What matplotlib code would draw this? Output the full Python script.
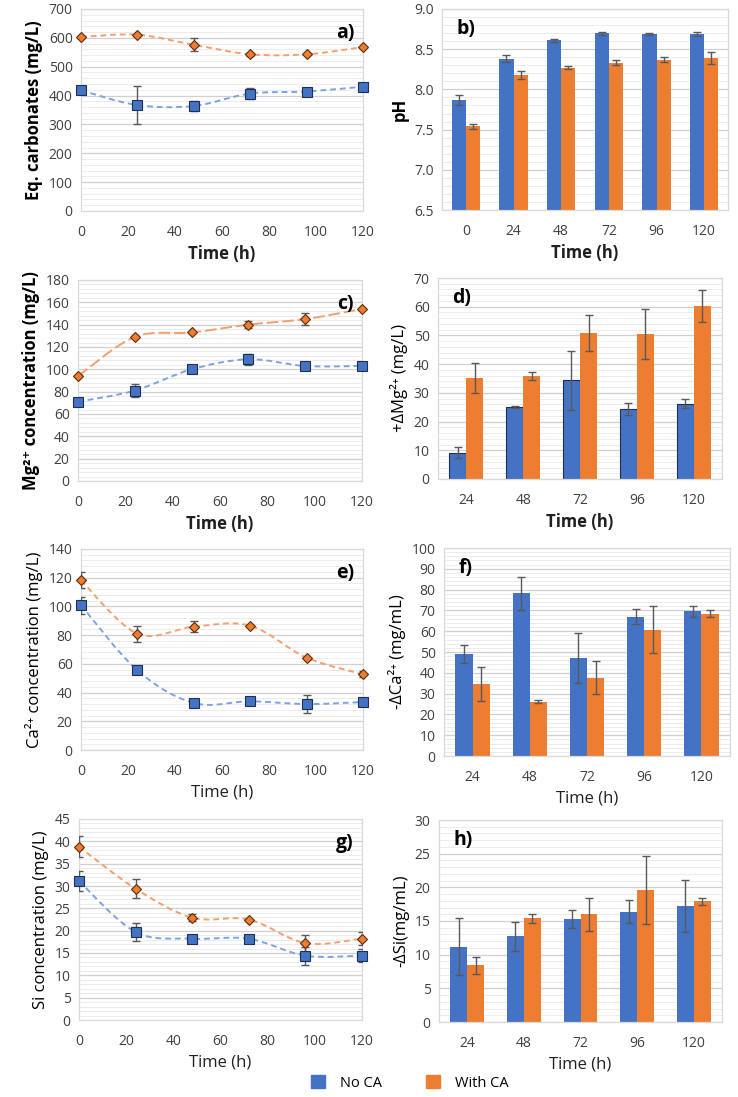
import matplotlib
matplotlib.use("Agg")
import matplotlib.pyplot as plt
import numpy as np
from matplotlib.path import Path
from matplotlib.patches import PathPatch, Patch
from matplotlib.ticker import MultipleLocator, AutoMinorLocator, FormatStrFormatter

plt.rcParams["font.family"] = ["Open Sans", "DejaVu Sans"]

BLUE = "#4472C4"
ORANGE = "#ED7D31"
ERR = "#595959"

# time points (h)
time = [0, 24, 48, 72, 96, 120]
time_delta = [24, 48, 72, 96, 120]

# a) equivalent carbonates (mg/L)
carb_no = [418, 367, 364, 407, 414, 431]
carb_no_err = [0, 65, 18, 18, 6, 5]
carb_ca = [603, 611, 576, 543, 543, 568]
carb_ca_err = [0, 0, 23, 5, 0, 0]

# b) pH
ph_no = [7.87, 8.38, 8.61, 8.70, 8.69, 8.69]
ph_no_err = [0.06, 0.045, 0.02, 0.02, 0.015, 0.02]
ph_ca = [7.54, 8.18, 8.27, 8.33, 8.37, 8.39]
ph_ca_err = [0.03, 0.045, 0.02, 0.03, 0.03, 0.07]

# c) Mg2+ concentration (mg/L)
mg_no = [71, 81, 100, 109, 103, 103]
mg_no_err = [0, 6, 0, 5, 0, 0]
mg_ca = [94, 129, 133, 140, 145, 154]
mg_ca_err = [0, 0, 0, 3, 5, 0]

# d) +dMg2+ (mg/L)
dmg_no = [9.2, 25.1, 34.4, 24.4, 26.2]
dmg_no_err = [2.0, 0.2, 10.2, 2.2, 1.6]
dmg_ca = [35.1, 35.8, 50.8, 50.5, 60.3]
dmg_ca_err = [5.3, 1.4, 6.3, 8.7, 5.5]

# e) Ca2+ concentration (mg/L)
ca_no = [100.8, 55.5, 32.7, 33.9, 32.0, 33.4]
ca_no_err = [6, 0, 3, 0, 6.3, 0]
ca_ca = [118.2, 81.0, 85.9, 86.6, 64.3, 52.7]
ca_ca_err = [5.5, 5.6, 3.7, 0, 0, 2]

# f) -dCa2+ (mg/mL)
dca_no = [48.9, 78.3, 47.0, 67.0, 69.6]
dca_no_err = [4.3, 7.9, 12.1, 3.5, 2.6]
dca_ca = [34.6, 26.2, 37.6, 60.8, 68.5]
dca_ca_err = [8.0, 0.8, 8.0, 11.3, 1.6]

# g) Si concentration (mg/L)
si_no = [31.1, 19.7, 18.2, 18.2, 14.4, 14.4]
si_no_err = [2.2, 2.0, 0, 0, 2.0, 1.5]
si_ca = [38.8, 29.4, 22.9, 22.5, 17.2, 18.2]
si_ca_err = [2.3, 2.1, 0.8, 0, 1.9, 1.5]

# h) -dSi (mg/mL)
dsi_no = [11.2, 12.7, 15.3, 16.4, 17.2]
dsi_no_err = [4.2, 2.2, 1.35, 1.75, 3.9]
dsi_ca = [8.4, 15.4, 16.0, 19.6, 17.9]
dsi_ca_err = [1.2, 0.7, 2.45, 5.0, 0.55]


W, H = 738, 1097
fig = plt.figure(figsize=(W / 100, H / 100), dpi=100)


def add_ax(left, top, right, bottom):
    return fig.add_axes([left / W, 1 - bottom / H, (right - left) / W, (bottom - top) / H])


def style(ax, ymin, ymax, major, label, letter, letter_right, ybold, xbold):
    ax.set_ylim(ymin, ymax)
    ax.yaxis.set_major_locator(MultipleLocator(major))
    ax.yaxis.set_minor_locator(AutoMinorLocator(5))
    ax.grid(axis="y", which="major", color="#d0d0d0", lw=0.9)
    ax.grid(axis="y", which="minor", color="#ececec", lw=0.7)
    ax.set_axisbelow(True)
    for s in ax.spines.values():
        s.set_color("#d9d9d9")
        s.set_linewidth(0.9)
    ax.tick_params(length=0, labelsize=10, colors="#404040", pad=6)
    ax.tick_params(axis="x", pad=10)
    ax.tick_params(which="minor", length=0)
    ax.set_ylabel(label, fontsize=12, fontweight="bold" if ybold else "normal",
                  color="black", labelpad=4)
    ax.set_xlabel("Time (h)", fontsize=12, fontweight="bold" if xbold else "normal",
                  color="#202020", labelpad=4)
    if letter_right:
        ax.text(0.97, 0.93, letter, transform=ax.transAxes, ha="right", va="top",
                fontsize=14, fontweight="bold")
    else:
        ax.text(0.05, 0.95, letter, transform=ax.transAxes, ha="left", va="top",
                fontsize=14, fontweight="bold")


def smooth(ax, x, y, color, dash):
    # Excel-like smoothed line as Bezier path through the data points
    x = np.asarray(x, float)
    y = np.asarray(y, float)
    px = np.concatenate([[x[0]], x, [x[-1]]])
    py = np.concatenate([[y[0]], y, [y[-1]]])
    verts = [(x[0], y[0])]
    codes = [Path.MOVETO]
    for i in range(1, len(px) - 2):
        c1 = (px[i] + (px[i + 1] - px[i - 1]) / 6, py[i] + (py[i + 1] - py[i - 1]) / 6)
        c2 = (px[i + 1] - (px[i + 2] - px[i]) / 6, py[i + 1] - (py[i + 2] - py[i]) / 6)
        verts += [c1, c2, (px[i + 1], py[i + 1])]
        codes += [Path.CURVE4] * 3
    ax.add_patch(PathPatch(Path(verts, codes), fill=False, edgecolor=color,
                           lw=1.4, linestyle=dash, zorder=2))


def scatter_panel(ax, no, no_err, ca, ca_err, dash_ca=(0, (3, 2))):
    smooth(ax, time, no, "#7ea3e0", (0, (3, 2)))
    smooth(ax, time, ca, "#f4a06e", dash_ca)
    ax.errorbar(time, no, yerr=no_err, fmt="none", ecolor=ERR, elinewidth=1, capsize=3, zorder=3)
    ax.errorbar(time, ca, yerr=ca_err, fmt="none", ecolor=ERR, elinewidth=1, capsize=3, zorder=3)
    ax.plot(time, no, "s", color=BLUE, mec="#1f2f4f", mew=0.8, ms=6.5, ls="none",
            clip_on=False, zorder=4)
    ax.plot(time, ca, "D", color=ORANGE, mec="#5a2c0c", mew=0.8, ms=5.5, ls="none",
            clip_on=False, zorder=4)
    ax.set_xlim(0, 120)
    ax.xaxis.set_major_locator(MultipleLocator(20))


def bar_panel(ax, cats, no, no_err, ca, ca_err, blue_edge=False):
    x = np.arange(len(cats))
    wd = 0.3
    ax.bar(x - wd / 2, no, wd, color=BLUE, edgecolor="#1f2f4f" if blue_edge else BLUE,
           lw=0.8 if blue_edge else 0, zorder=2)
    ax.bar(x + wd / 2, ca, wd, color=ORANGE, lw=0, zorder=2)
    ax.errorbar(x - wd / 2, no, yerr=no_err, fmt="none", ecolor=ERR, elinewidth=1, capsize=3, zorder=3)
    ax.errorbar(x + wd / 2, ca, yerr=ca_err, fmt="none", ecolor=ERR, elinewidth=1, capsize=3, zorder=3)
    ax.set_xticks(x)
    ax.set_xticklabels([str(c) for c in cats])
    ax.set_xlim(-0.5, len(cats) - 0.5)


# a)
ax = add_ax(81, 9, 363, 211)
scatter_panel(ax, carb_no, carb_no_err, carb_ca, carb_ca_err)
style(ax, 0, 700, 100, "Eq. carbonates (mg/L)", "a)", True, True, True)

# b)
ax = add_ax(442, 9, 728, 210)
bar_panel(ax, time, ph_no, ph_no_err, ph_ca, ph_ca_err)
style(ax, 6.5, 9.0, 0.5, "pH", "b)", False, True, True)
ax.yaxis.set_major_formatter(FormatStrFormatter("%.1f"))

# c)
ax = add_ax(78, 280, 362, 481)
scatter_panel(ax, mg_no, mg_no_err, mg_ca, mg_ca_err, dash_ca=(0, (6, 2)))
style(ax, 0, 180, 20, "Mg²⁺ concentration (mg/L)", "c)", True, True, True)

# d)
ax = add_ax(438, 278, 722, 479)
bar_panel(ax, time_delta, dmg_no, dmg_no_err, dmg_ca, dmg_ca_err, blue_edge=True)
style(ax, 0, 70, 10, "+ΔMg²⁺ (mg/L)", "d)", False, False, True)

# e)
ax = add_ax(81, 549, 363, 750)
scatter_panel(ax, ca_no, ca_no_err, ca_ca, ca_ca_err)
style(ax, 0, 140, 20, "Ca²⁺ concentration (mg/L)", "e)", True, False, False)

# f)
ax = add_ax(444, 548, 730, 756)
bar_panel(ax, time_delta, dca_no, dca_no_err, dca_ca, dca_ca_err)
style(ax, 0, 100, 10, "-ΔCa²⁺ (mg/mL)", "f)", False, False, False)

# g)
ax = add_ax(79, 819, 362, 1020)
scatter_panel(ax, si_no, si_no_err, si_ca, si_ca_err)
style(ax, 0, 45, 5, "Si concentration (mg/L)", "g)", True, False, False)

# h)
ax = add_ax(439, 820, 722, 1022)
bar_panel(ax, time_delta, dsi_no, dsi_no_err, dsi_ca, dsi_ca_err)
style(ax, 0, 30, 5, "-ΔSi(mg/mL)", "h)", False, False, False)

handles = [Patch(color=BLUE, label="No CA"), Patch(color=ORANGE, label="With CA")]
fig.legend(handles=handles, loc="center", bbox_to_anchor=(0.555, 1 - 1083 / H),
           ncol=2, frameon=False, fontsize=10.5, handlelength=1.0, handleheight=1.0,
           columnspacing=3.0, handletextpad=1.0)

fig.savefig("out.png", dpi=100, facecolor="white")
